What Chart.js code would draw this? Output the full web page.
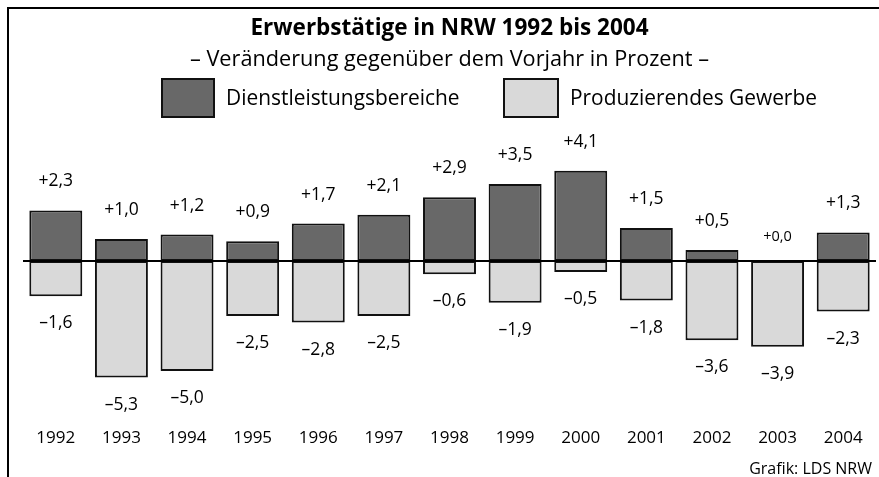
<!DOCTYPE html>
<html>
<head>
<meta charset="utf-8">
<script src="https://cdn.jsdelivr.net/npm/chart.js@4/dist/chart.umd.min.js"></script>
<style>
  html, body { margin: 0; padding: 0; background: #fff; }
  #wrap { position: relative; width: 879px; height: 477px; }
</style>
</head>
<body>
<div id="wrap"><canvas id="chart" width="879" height="477"></canvas></div>
<script>
const years = ['1992', '1993', '1994', '1995', '1996', '1997', '1998', '1999', '2000', '2001', '2002', '2003', '2004'];
const dienstleistung = [2.3, 1.0, 1.2, 0.9, 1.7, 2.1, 2.9, 3.5, 4.1, 1.5, 0.5, 0.0, 1.3];
const produzierend = [-1.6, -5.3, -5.0, -2.5, -2.8, -2.5, -0.6, -1.9, -0.5, -1.8, -3.6, -3.9, -2.3];
const seriesNames = ['Dienstleistungsbereiche', 'Produzierendes Gewerbe'];

const FONT = "'Open Sans', 'Noto Sans', sans-serif";
const DARK = '#686868';
const LIGHT = '#d9d9d9';
const EDGE = '#111';

function formatValue(v) {
    const s = Math.abs(v).toFixed(1).replace('.', ',');
    return (v < 0 ? '\u2013' : '+') + s;
}

// frame, legend, zero line, value labels, source note
const decorPlugin = {
    id: 'decor',
    beforeDraw(chart) {
        const ctx = chart.ctx;
        ctx.save();
        ctx.strokeStyle = '#000';
        ctx.lineWidth = 2;
        ctx.beginPath();
        ctx.moveTo(7, 8);
        ctx.lineTo(879, 8);
        ctx.moveTo(8, 7);
        ctx.lineTo(8, 477);
        ctx.stroke();

        // legend
        const items = [
            { x: 162, w: 52, ds: chart.data.datasets[0] },
            { x: 504, w: 54, ds: chart.data.datasets[1] }
        ];
        ctx.font = '20.9px ' + FONT;
        ctx.textBaseline = 'middle';
        ctx.textAlign = 'left';
        items.forEach(it => {
            ctx.fillStyle = it.ds.backgroundColor;
            ctx.fillRect(it.x, 79, it.w, 38);
            ctx.strokeStyle = EDGE;
            ctx.lineWidth = 2;
            ctx.strokeRect(it.x, 79, it.w, 38);
            ctx.fillStyle = '#000';
            ctx.fillText(it.ds.label, it.x + it.w + 12, 99);
        });

        ctx.font = '16px ' + FONT;
        ctx.textAlign = 'right';
        ctx.fillText('Grafik: LDS NRW', 872, 469);
        ctx.restore();
    },
    afterDatasetsDraw(chart) {
        const ctx = chart.ctx;
        const area = chart.chartArea;
        const y0 = chart.scales.y.getPixelForValue(0);
        ctx.save();
        ctx.strokeStyle = '#000';
        ctx.lineWidth = 2;
        ctx.beginPath();
        ctx.moveTo(area.left, y0);
        ctx.lineTo(area.right, y0);
        ctx.stroke();

        ctx.fillStyle = '#000';
        ctx.textAlign = 'center';
        ctx.textBaseline = 'middle';
        chart.data.datasets.forEach((ds, di) => {
            const meta = chart.getDatasetMeta(di);
            meta.data.forEach((bar, i) => {
                const v = ds.data[i];
                ctx.font = (v === 0 ? '14.5px ' : '17.5px ') + FONT;
                const y = v < 0 ? bar.y + 27 : bar.y - (v === 0 ? 24 : 29);
                ctx.fillText(formatValue(v), bar.x, y);
            });
        });
        ctx.restore();
    }
};

new Chart(document.getElementById('chart'), {
    type: 'bar',
    data: {
        labels: years,
        datasets: [{
            label: seriesNames[0],
            data: dienstleistung,
            backgroundColor: DARK,
            borderColor: EDGE,
            borderWidth: 2,
            borderSkipped: false
        }, {
            label: seriesNames[1],
            data: produzierend,
            backgroundColor: LIGHT,
            borderColor: EDGE,
            borderWidth: 2,
            borderSkipped: false
        }]
    },
    options: {
        responsive: false,
        animation: false,
        layout: { padding: { top: 5, left: 23, right: 3, bottom: 22.8 } },
        datasets: {
            bar: { categoryPercentage: 1, barPercentage: 0.807 }
        },
        scales: {
            x: {
                stacked: true,
                grid: { display: false, drawTicks: false },
                border: { display: false },
                ticks: { color: '#000', padding: 6, font: { family: FONT, size: 17 } }
            },
            y: {
                stacked: true,
                display: false,
                min: -7.31,
                max: 6.18
            }
        },
        plugins: {
            legend: { display: false },
            tooltip: { enabled: false },
            title: {
                display: true,
                text: 'Erwerbstätige in NRW 1992 bis 2004',
                color: '#000',
                font: { family: FONT, size: 22.5, weight: 'bold' },
                padding: { top: 10.5, bottom: 0 }
            },
            subtitle: {
                display: true,
                text: '\u2013 Veränderung gegenüber dem Vorjahr in Prozent \u2013',
                color: '#000',
                font: { family: FONT, size: 21.7 },
                padding: { top: 4.5, bottom: 52 }
            }
        }
    },
    plugins: [decorPlugin]
});
</script>
</body>
</html>
